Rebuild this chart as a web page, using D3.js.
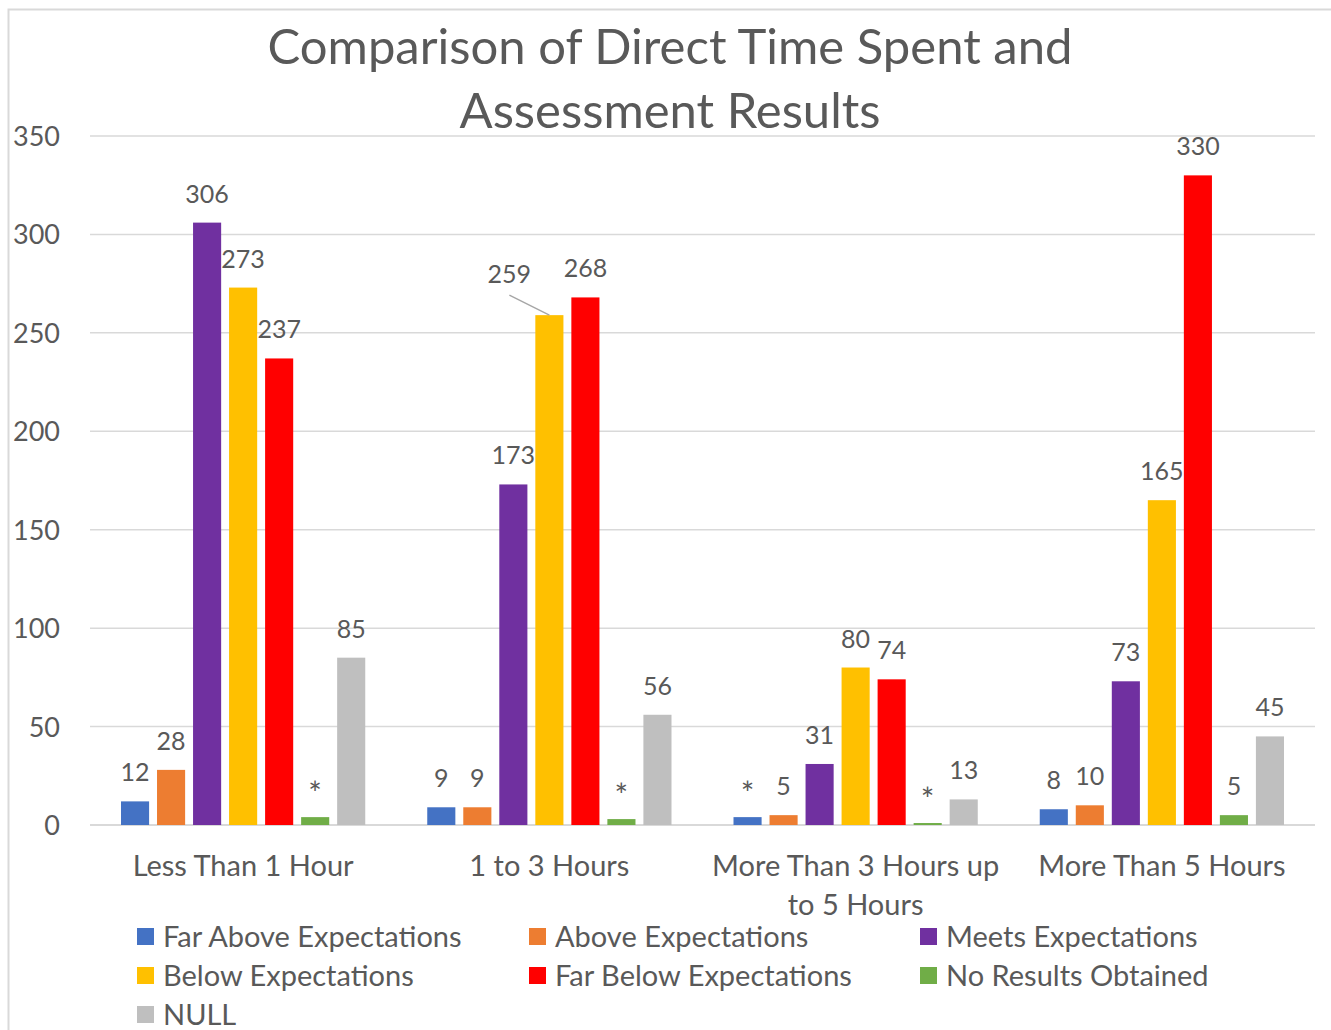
<!DOCTYPE html>
<html>
<head>
<style>
	body { margin: 0; background: #fff; }
	svg text { font-family: Lato, "Open Sans", sans-serif; fill: #595959; }
</style>
<script src="https://d3js.org/d3.v7.min.js"></script>
</head>
<body>
<div id="chart"></div>
<script>
	// Data
	var categories = ["Less Than 1 Hour", "1 to 3 Hours", "More Than 3 Hours up to 5 Hours", "More Than 5 Hours"];
	var seriesNames = ["Far Above Expectations", "Above Expectations", "Meets Expectations",
		"Below Expectations", "Far Below Expectations", "No Results Obtained", "NULL"];
	var seriesColors = ["#4472C4", "#ED7D31", "#7030A0", "#FFC000", "#FF0000", "#70AD47", "#BFBFBF"];
	// values per series, one per category
	var farAbove = [12, 9, 4, 8];
	var above = [28, 9, 5, 10];
	var meets = [306, 173, 31, 73];
	var below = [273, 259, 80, 165];
	var farBelow = [237, 268, 74, 330];
	var noResults = [4, 3, 1, 5];
	var nullVals = [85, 56, 13, 45];
	// suppressed small counts are shown as "*"
	var farAboveLabels = ["12", "9", "*", "8"];
	var noResultsLabels = ["*", "*", "*", "5"];
	var yTicks = [0, 50, 100, 150, 200, 250, 300, 350];

	var seriesValues = [farAbove, above, meets, below, farBelow, noResults, nullVals];
	var seriesLabels = [farAboveLabels, null, null, null, null, noResultsLabels, null];

	var W = 1331, H = 1030;
	var margin = {left: 90, right: 16, top: 136, bottom: 205};
	var plotW = W - margin.left - margin.right,
		plotH = H - margin.top - margin.bottom;

	var svg = d3.select("#chart").append("svg")
		.attr("width", W)
		.attr("height", H);

	// chart frame
	svg.append("rect")
		.attr("x", 8.5).attr("y", 9.5)
		.attr("width", W + 20).attr("height", H + 20)
		.attr("fill", "none")
		.attr("stroke", "#d9d9d9")
		.attr("stroke-width", 2);

	var g = svg.append("g").attr("transform", "translate(" + margin.left + "," + margin.top + ")");

	var x0 = d3.scaleBand().domain(categories).range([0, plotW]).paddingInner(0).paddingOuter(0);
	var x1 = d3.scaleBand().domain(d3.range(seriesNames.length))
		.range([31, x0.bandwidth() - 31]).paddingInner(0.22).paddingOuter(0);
	var y = d3.scaleLinear().domain([0, 350]).range([plotH, 0]);

	// gridlines
	g.selectAll(".grid").data(yTicks).enter().append("line")
		.attr("x1", 0).attr("x2", plotW)
		.attr("y1", function(d) { return y(d); })
		.attr("y2", function(d) { return y(d); })
		.attr("stroke", "#d9d9d9")
		.attr("stroke-width", function(d) { return d === 0 ? 2 : 1.5; });

	// y axis labels
	var yAxis = d3.axisLeft(y).tickValues(yTicks).tickSize(0).tickPadding(30);
	var ya = g.append("g").call(yAxis);
	ya.select(".domain").remove();
	ya.selectAll("text").style("font-size", "27px").attr("font-family", null).attr("fill", "#595959").attr("dy", "0.35em");

	// title
	var title = svg.append("text")
		.attr("x", 670).attr("y", 64)
		.attr("text-anchor", "middle")
		.style("font-size", "49px");
	title.append("tspan").attr("x", 670).text("Comparison of Direct Time Spent and");
	title.append("tspan").attr("x", 670).attr("dy", 64).text("Assessment Results");

	// bars
	var groups = g.selectAll(".cat").data(categories).enter().append("g")
		.attr("transform", function(d) { return "translate(" + x0(d) + ",0)"; });

	seriesNames.forEach(function(name, si) {
		groups.append("rect")
			.attr("x", x1(si))
			.attr("width", x1.bandwidth())
			.attr("y", function(d, ci) { return y(seriesValues[si][ci]); })
			.attr("height", function(d, ci) { return plotH - y(seriesValues[si][ci]); })
			.attr("fill", seriesColors[si]);

		groups.append("text")
			.attr("x", function(d, ci) {
				var cx = x1(si) + x1.bandwidth() / 2;
				// 259 label was moved left with a leader line in the original
				if (si === 3 && ci === 1) cx -= 40;
				return cx;
			})
			.attr("y", function(d, ci) {
				var lab = seriesLabels[si] ? seriesLabels[si][ci] : "";
				var yy = y(seriesValues[si][ci]) - 20;
				if (lab === "*") yy += 8;
				if (si === 3 && ci === 1) yy -= 12;
				return yy;
			})
			.attr("text-anchor", "middle")
			.style("font-size", function(d, ci) {
				var lab = seriesLabels[si] ? seriesLabels[si][ci] : "";
				return lab === "*" ? "32px" : "25px";
			})
			.attr("fill", "#404040")
			.text(function(d, ci) {
				return seriesLabels[si] ? seriesLabels[si][ci] : seriesValues[si][ci];
			});
	});

	// leader line for the moved label
	var lx = x0(categories[1]) + x1(3) + x1.bandwidth() / 2;
	g.append("line")
		.attr("x1", lx - 40).attr("y1", y(below[1]) - 20)
		.attr("x2", lx).attr("y2", y(below[1]))
		.attr("stroke", "#a6a6a6").attr("stroke-width", 1.5);

	// category labels
	var catLines = [["Less Than 1 Hour"], ["1 to 3 Hours"], ["More Than 3 Hours up", "to 5 Hours"], ["More Than 5 Hours"]];
	categories.forEach(function(c, i) {
		var t = g.append("text")
			.attr("x", x0(c) + x0.bandwidth() / 2)
			.attr("y", plotH + 51)
			.attr("text-anchor", "middle")
			.style("font-size", "29px");
		catLines[i].forEach(function(line, li) {
			t.append("tspan")
				.attr("x", x0(c) + x0.bandwidth() / 2)
				.attr("dy", li === 0 ? 0 : 39)
				.text(line);
		});
	});

	// legend
	var legCols = [137, 529, 920];
	var legend = svg.selectAll(".leg").data(seriesNames).enter().append("g")
		.attr("transform", function(d, i) {
			return "translate(" + legCols[i % 3] + "," + (937 + Math.floor(i / 3) * 39) + ")";
		});
	legend.append("rect")
		.attr("x", 0).attr("y", -9)
		.attr("width", 17).attr("height", 17)
		.attr("fill", function(d, i) { return seriesColors[i]; });
	legend.append("text")
		.attr("x", 26).attr("y", 0)
		.attr("dy", "0.35em")
		.style("font-size", "29px")
		.text(function(d) { return d; });
</script>
</body>
</html>
